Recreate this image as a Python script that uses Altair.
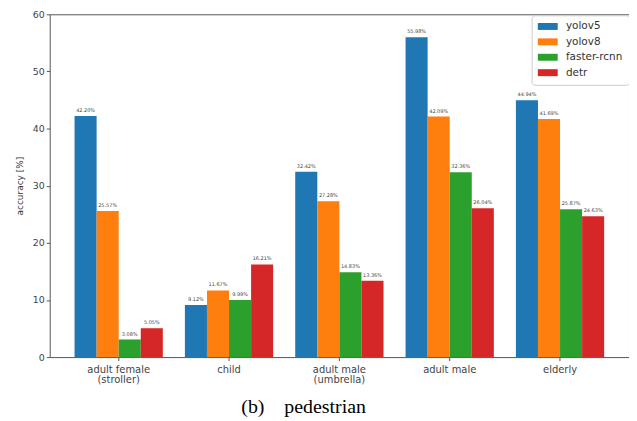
import altair as alt
import pandas as pd

categories = ["adult female\n(stroller)", "child", "adult male\n(umbrella)", "adult male", "elderly"]
models = ["yolov5", "yolov8", "faster-rcnn", "detr"]
yolov5 = [42.20, 9.12, 32.42, 55.98, 44.94]
yolov8 = [25.57, 11.67, 27.28, 42.09, 41.69]
faster_rcnn = [3.08, 9.99, 14.83, 32.36, 25.87]
detr = [5.05, 16.21, 13.36, 26.04, 24.63]
colors = ["#1f77b4", "#ff7f0e", "#2ca02c", "#d62728"]

series = [yolov5, yolov8, faster_rcnn, detr]
rows = []
for m, vals in zip(models, series):
    for c, v in zip(categories, vals):
        rows.append({"category": c, "model": m, "value": v})
df = pd.DataFrame(rows)

FONT = "DejaVu Sans"

x = alt.X("category:N", sort=categories,
          scale=alt.Scale(paddingInner=0.2, paddingOuter=0.225),
          axis=alt.Axis(title=None, labelAngle=0, labelFontSize=10, labelColor="#444",
                        labelExpr="split(datum.label, '\\n')", labelLineHeight=10,
                        tickSize=3.5, domain=False, labelFont=FONT, labelPadding=4))
xo = alt.XOffset("model:N", sort=models, scale=alt.Scale(paddingInner=0, paddingOuter=0))
y = alt.Y("value:Q", scale=alt.Scale(domain=[0, 60], nice=False),
          axis=alt.Axis(title="accuracy [%]", values=[0, 10, 20, 30, 40, 50, 60],
                        grid=False, tickSize=3.5, labelFontSize=9.5, labelColor="#444",
                        titleFontSize=9, titleColor="#333", titleFontWeight="normal",
                        labelFont=FONT, titleFont=FONT, domain=False, titlePadding=8))

bars = alt.Chart(df).mark_bar().encode(
    x=x, xOffset=xo, y=y,
    color=alt.Color("model:N", sort=models, scale=alt.Scale(domain=models, range=colors),
                    legend=alt.Legend(title=None, orient="none", legendX=485, legendY=1,
                                      symbolType="M-1,-0.7H3V0.7H-1Z", symbolSize=100,
                                      symbolStrokeWidth=0, labelFontSize=10.5, labelColor="#333",
                                      labelFont=FONT, labelOffset=18, rowPadding=4.5,
                                      padding=6, strokeColor="#cccccc", fillColor="white",
                                      cornerRadius=3))
)

labels = alt.Chart(df).transform_calculate(
    lab="format(datum.value, '.2f') + '%'"
).mark_text(fontSize=5, dy=-3, color="#444", font=FONT, baseline="bottom").encode(
    x=alt.X("category:N", sort=categories), xOffset=xo, y="value:Q", text="lab:N"
)

chart = alt.layer(bars, labels).properties(
    width=583, height=345,
    autosize=alt.AutoSizeParams(type="none"),
    padding={"left": 42, "top": 5, "right": 0, "bottom": 63},
    title=alt.TitleParams("(b)\u00a0\u00a0\u00a0\u00a0pedestrian", orient="bottom",
                          font="Liberation Serif", fontSize=20, fontWeight="normal",
                          color="black", dx=-36, offset=13)
).configure_view(stroke="#555", strokeWidth=1).configure_axis(
    tickColor="#555", domainColor="#555"
)

chart.save("out.html", embed_options={"renderer": "svg", "actions": False})
